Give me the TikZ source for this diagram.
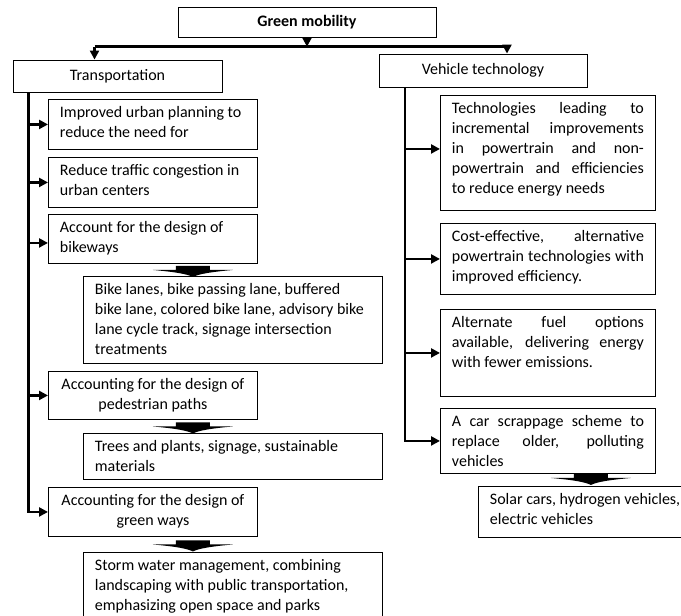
\documentclass[tikz,border=0pt]{standalone}
\usepackage{fontspec}
\setmainfont{Carlito}
\usetikzlibrary{arrows.meta,calc}
\tikzset{
  tbox/.style={draw=black, line width=0.9pt, inner xsep=11.5pt, inner ysep=0pt, anchor=north west, font=\fontsize{16}{20}\selectfont},
  titlebox/.style={draw=black, line width=0.9pt, inner sep=0pt, font=\fontsize{16}{20}\selectfont},
  conn/.style={line width=2.5pt, -{Triangle[length=9pt,width=9pt]}},
  trunk/.style={line width=2.5pt},
  fatarrow/.pic={\fill (-17,-4) -- (17,-4) -- (17,0) -- (40,0) .. controls (18,2) and (6,4) .. (0,7) .. controls (-6,4) and (-18,2) .. (-40,0) -- (-17,0) -- cycle;}
}
\newcommand\bxt[3]{\parbox[c][#2pt][t]{#1pt}{\rule{0pt}{18.5pt}#3}}
\begin{document}
\begin{tikzpicture}[x=1pt,y=-1pt]
\useasboundingbox (0,0) rectangle (681,616);
\clip (0,0) rectangle (681,616);
% top level
\node[titlebox, minimum width=258pt, minimum height=30pt, font=\bfseries\fontsize{16}{20}\selectfont] (gm) at (307,22.3) {Green mobility};
\node[titlebox, minimum width=209pt, minimum height=32pt] (tr) at (117.5,76) {Transportation};
\node[titlebox, minimum width=208pt, minimum height=33pt] (vt) at (483,70.5) {Vehicle technology};
\coordinate (barL) at (94.5,46.7);
\coordinate (barR) at (507,46.7);
\coordinate (lt) at (28.5,0);
\coordinate (rt) at (405,0);
\draw[trunk] (barL) -- (barR);
\draw[conn] (gm.south) -- (gm.south |- barL);
\draw[conn] (barL) -- (barL |- tr.north);
\draw[conn] (barR) -- (barR |- vt.north);
% left column
\node[tbox] (b1) at (48,99) {\bxt{186}{50}{\raggedright Improved urban planning to\\ reduce the need for}};
\node[tbox] (b2) at (48,157) {\bxt{186}{50}{\raggedright Reduce traffic congestion in\\ urban centers}};
\node[tbox] (b3) at (48,214) {\bxt{186}{49}{\raggedright Account for the design of\\ bikeways}};
\node[tbox] (b4) at (83,276) {\bxt{276}{87}{\raggedright Bike lanes, bike passing lane, buffered\\ bike lane, colored bike lane, advisory bike\\ lane cycle track, signage intersection\\ treatments}};
\node[tbox] (b5) at (48,371) {\bxt{186}{48}{\centering Accounting for the design of\\ pedestrian paths}};
\node[tbox] (b6) at (83,433) {\bxt{276}{46}{\raggedright Trees and plants, signage, sustainable\\ materials}};
\node[tbox] (b7) at (48,487) {\bxt{186}{49}{\centering Accounting for the design of\\ green ways}};
\node[tbox] (b8) at (83,552) {\bxt{276}{90}{\raggedright Storm water management, combining\\ landscaping with public transportation,\\ emphasizing open space and parks}};
% right column
\node[tbox] (r1) at (440,95) {\bxt{192}{115}{Technologies leading to\linebreak incremental improvements\linebreak in powertrain and non-\linebreak powertrain and efficiencies\linebreak to reduce energy needs}};
\node[tbox] (r2) at (440,223) {\bxt{192}{71}{Cost-effective, alternative\linebreak powertrain technologies with\linebreak improved efficiency.}};
\node[tbox] (r3) at (440,309) {\bxt{192}{87}{Alternate fuel options\linebreak available, delivering energy\linebreak with fewer emissions.}};
\node[tbox] (r4) at (440,408) {\bxt{192}{65}{A car scrappage scheme to\linebreak replace older, polluting\linebreak vehicles}};
\node[tbox] (r5) at (478,486) {\bxt{200}{51}{\raggedright Solar cars, hydrogen vehicles,\\ electric vehicles}};
% left trunk and branches
\draw[conn] (lt |- tr.south) |- (b7.west);
\foreach \n in {b1,b2,b5} \draw[conn] (lt |- \n.west) -- (\n.west);
\draw[conn] ([yshift=-4pt]b3.west -| lt) -- ([yshift=-4pt]b3.west);
% right trunk and branches
\draw[conn] (rt |- vt.south) |- (r4.west);
\foreach \n in {r2,r3} \draw[conn] (rt |- \n.west) -- (\n.west);
\draw[conn] ([yshift=4pt]r1.west -| rt) -- ([yshift=4pt]r1.west);
% block arrows
\pic at ($(b3.south)!0.5!(b4.north)$) {fatarrow};
\pic at ($(b5.south)!0.5!(b6.north)$) {fatarrow};
\pic at ($(b7.south)!0.5!(b8.north)$) {fatarrow};
\pic at ($(r4.south)!0.5!(r5.north)+(22,-2)$) {fatarrow};
\end{tikzpicture}
\end{document}
